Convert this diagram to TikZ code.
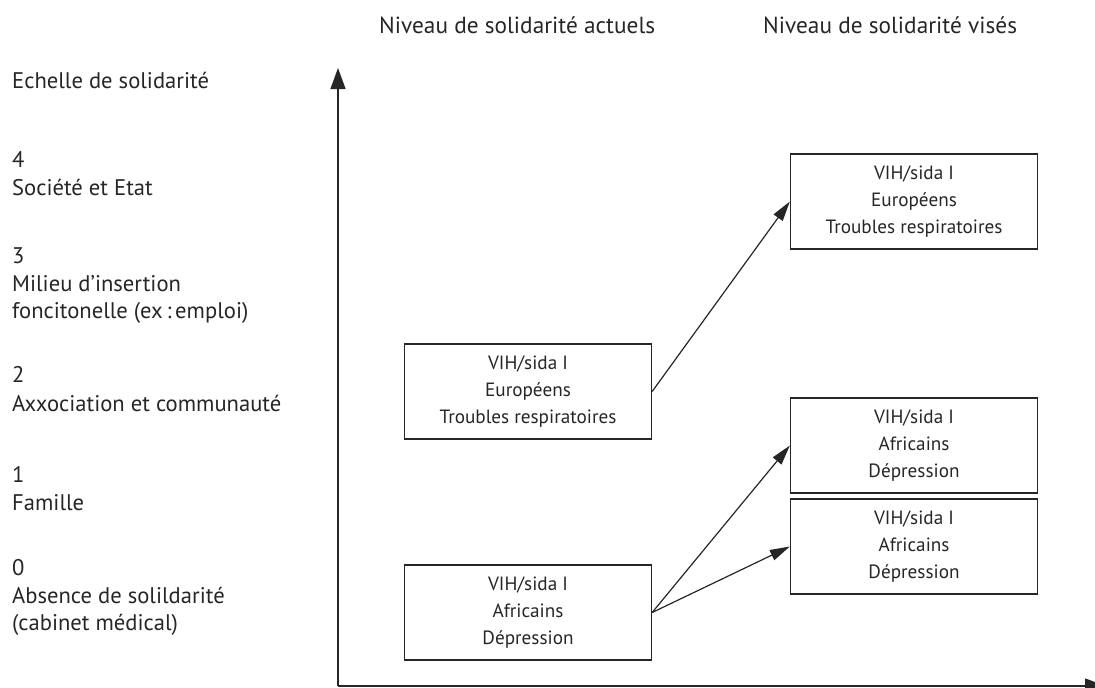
\documentclass[tikz,border=0pt]{standalone}
\usepackage{fontspec}
\setmainfont{PT Sans}
\usetikzlibrary{arrows.meta}
\begin{document}
\begin{tikzpicture}[x=1pt,y=-1pt,
  lbl/.style={anchor=base west,inner sep=0pt,font=\fontsize{22.6}{28}\selectfont,text=black!85},
  hdr/.style={anchor=base west,inner sep=0pt,font=\fontsize{23.3}{28}\selectfont,text=black!85},
  box/.style={draw=black!85,line width=1.3pt,minimum width=247pt,minimum height=95pt,align=center,inner sep=0pt,font=\fontsize{19.2}{27}\selectfont,text=black!85},
  conn/.style={draw=black!85,line width=1.2pt,-{Triangle[length=20pt,width=11pt]}},
  axis/.style={draw=black!85,line width=1.3pt,-{Triangle[length=21pt,width=15pt]}}]
\useasboundingbox (0,0) rectangle (1095,688);
% headers
\node[hdr] (h1) at (379,33) {Niveau de solidarité actuels};
\node[hdr] (h2) at (763,33) {Niveau de solidarité visés};
% scale labels
\node[lbl] (t0) at (12,88) {Echelle de solidarité};
\node[lbl] (l4) at (12,167) {4};
\node[lbl] (l4b) at (12,195) {Société et Etat};
\node[lbl] (l3) at (12,263) {3};
\node[lbl] (l3b) at (12,291) {Milieu d’insertion};
\node[lbl] (l3c) at (12,318) {foncitonelle (ex\,:\,emploi)};
\node[lbl] (l2) at (12,382) {2};
\node[lbl] (l2b) at (12,411) {Axxociation et communauté};
\node[lbl] (l1) at (12,482) {1};
\node[lbl] (l1b) at (12,510) {Famille};
\node[lbl] (l0) at (12,575) {0};
\node[lbl] (l0b) at (12,603) {Absence de solildarité};
\node[lbl] (l0c) at (12,630) {(cabinet médical)};
% axes
\coordinate (O) at (338,686);
\coordinate (Y) at (338,68);
\coordinate (X) at (1106,686);
\draw[axis] (O) -- (Y);
\draw[axis] (O) -- (X);
% boxes
\node[box] (cE) at (528,391.5) {VIH/sida I\\Européens\\Troubles respiratoires};
\node[box] (cA) at (528,612.5) {VIH/sida I\\Africains\\Dépression};
\node[box] (tE) at (914,201.5) {VIH/sida I\\Européens\\Troubles respiratoires};
\node[box] (tA1) at (914,445.5) {VIH/sida I\\Africains\\Dépression};
\node[box] (tA2) at (914,546.5) {VIH/sida I\\Africains\\Dépression};
% connectors
\draw[conn] (cE.east) -- (tE.west);
\draw[conn] (cA.east) -- (tA1.west);
\draw[conn] (cA.east) -- (tA2.west);
\end{tikzpicture}
\end{document}
